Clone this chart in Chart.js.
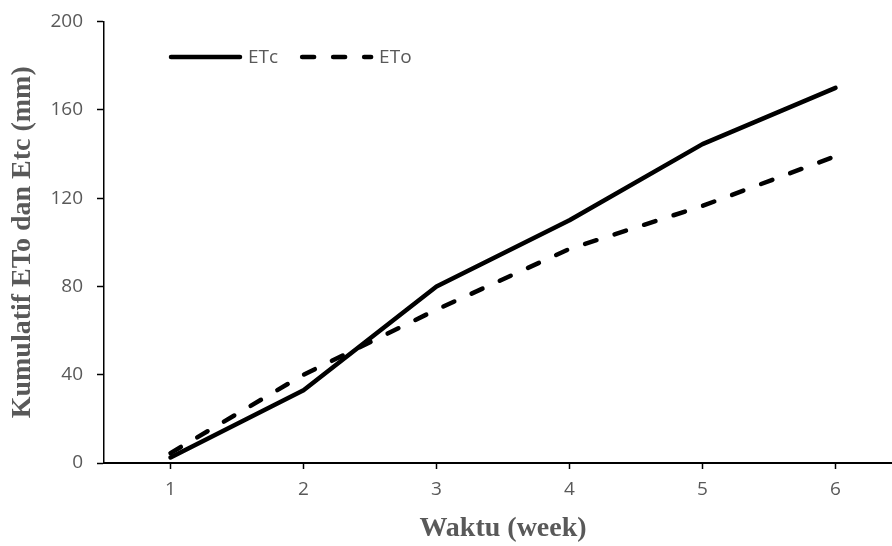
<!DOCTYPE html>
<html>
<head>
<meta charset="utf-8">
<script src="https://cdn.jsdelivr.net/npm/chart.js@4.4.1/dist/chart.umd.min.js"></script>
<style>
  html, body { margin: 0; padding: 0; background: #fff; overflow: hidden; }
  #wrap { width: 910px; height: 546px; }
</style>
</head>
<body>
<div id="wrap"><canvas id="mychart"></canvas></div>
<script>
// data
const weeks = ['1', '2', '3', '4', '5', '6'];
const etc = [2.5, 33, 80, 110, 144.5, 170];
const eto = [4.5, 40, 69.5, 97, 116.5, 139];
const yTicks = [0, 40, 80, 120, 160, 200];

const grey = '#595959';
const tickFont = { family: "'Open Sans', sans-serif", size: 19 };
const titleFont = { family: "'Liberation Serif', 'Times New Roman', serif", size: 28, weight: 'bold' };

// legend drawn inside the plot, top left, like the original
const lineLegend = {
    id: 'lineLegend',
    afterDraw(chart) {
        const ctx = chart.ctx;
        let x = 171;
        const y = 57;
        ctx.save();
        ctx.font = "19px 'Open Sans', sans-serif";
        ctx.textBaseline = 'middle';
        chart.data.datasets.forEach(ds => {
            ctx.beginPath();
            ctx.strokeStyle = ds.borderColor;
            ctx.lineWidth = ds.borderWidth;
            ctx.lineCap = 'round';
            ctx.setLineDash(ds.borderDash || []);
            ctx.moveTo(x, y);
            ctx.lineTo(x + 69, y);
            ctx.stroke();
            ctx.setLineDash([]);
            ctx.fillStyle = grey;
            ctx.fillText(ds.label, x + 77, y + 1);
            x += 77 + ctx.measureText(ds.label).width + 24;
        });
        ctx.restore();
    }
};

new Chart(document.getElementById('mychart'), {
    type: 'line',
    data: {
        labels: weeks,
        datasets: [
            {
                label: 'ETc',
                data: etc,
                borderColor: '#000',
                borderWidth: 4.5,
                borderCapStyle: 'round',
                borderJoinStyle: 'round',
                pointRadius: 0,
                tension: 0
            },
            {
                label: 'ETo',
                data: eto,
                borderColor: '#000',
                borderWidth: 4.5,
                borderDash: [12, 19],
                borderCapStyle: 'round',
                borderJoinStyle: 'round',
                pointRadius: 0,
                tension: 0
            }
        ]
    },
    options: {
        responsive: true,
        maintainAspectRatio: false,
        animation: false,
        layout: { padding: { left: 0, right: 8, top: 8, bottom: 0 } },
        plugins: {
            legend: { display: false },
            tooltip: { enabled: false }
        },
        scales: {
            x: {
                offset: true,
                grid: { display: true, drawOnChartArea: false, offset: false, tickLength: 6, tickColor: '#000', tickWidth: 1.5 },
                border: { color: '#000', width: 2 },
                ticks: { color: grey, font: tickFont, padding: 9, maxRotation: 0 },
                title: { display: true, text: 'Waktu (week)', color: grey, font: titleFont, padding: { top: 2, bottom: 0 } },
                afterFit(scale) { scale.height = 83; }
            },
            y: {
                min: 0,
                max: 200,
                afterBuildTicks(scale) { scale.ticks = yTicks.map(v => ({ value: v })); },
                grid: { display: true, drawOnChartArea: false, tickLength: 7, tickColor: '#000', tickWidth: 1.5 },
                border: { color: '#000', width: 1.5 },
                ticks: { color: grey, font: { family: tickFont.family, size: 19, lineHeight: 0.8 }, padding: 14 },
                title: { display: true, text: 'Kumulatif ETo dan Etc (mm)', color: grey, font: titleFont, padding: { top: 6, bottom: 2 } },
                afterFit(scale) { scale.width = 104; }
            }
        }
    },
    plugins: [lineLegend]
});
</script>
</body>
</html>
